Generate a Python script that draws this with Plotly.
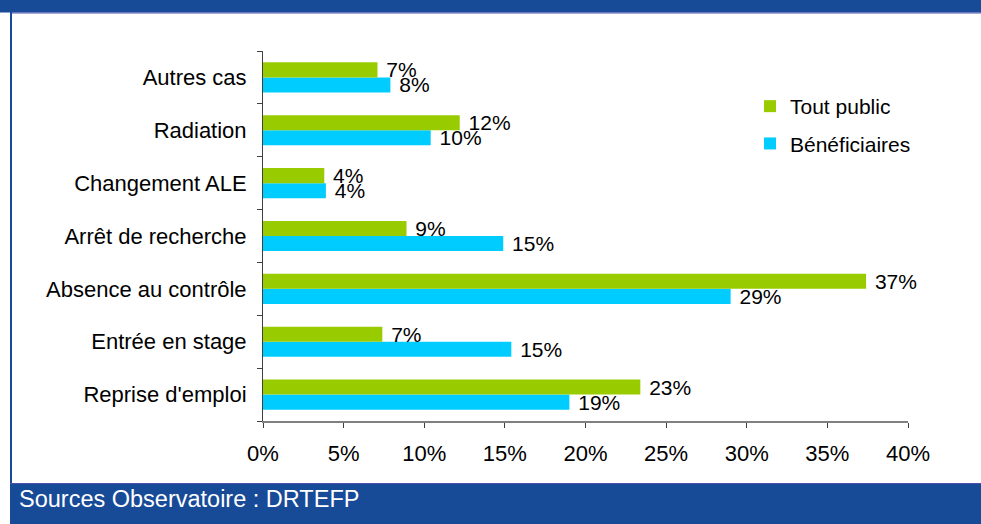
import plotly.graph_objects as go

categories = ["Reprise d'emploi", "Entrée en stage", "Absence au contrôle",
              "Arrêt de recherche", "Changement ALE", "Radiation", "Autres cas"]
tout_public = [23.4, 7.4, 37.4, 8.9, 3.8, 12.2, 7.1]
beneficiaires = [19.0, 15.4, 29.0, 14.9, 3.9, 10.4, 7.9]
x_ticks = [0, 5, 10, 15, 20, 25, 30, 35, 40]
x_tick_labels = [f"{v}%" for v in x_ticks]
source_text = "Sources Observatoire : DRTEFP"

GREEN = "#99CC00"
BLUE = "#00CCFF"
FRAME = "#174A97"
FONT = "Liberation Sans, Arial, sans-serif"

W, H = 981, 524
L, R, T, B = 263, 908, 51, 421

fig = go.Figure()
fig.add_trace(go.Bar(
    y=categories, x=beneficiaires, orientation="h", name="Bénéficiaires",
    marker=dict(color=BLUE, line=dict(width=0)),
    text=["\u00a0" + f"{round(v):.0f}%" for v in beneficiaires],
    textposition="outside", cliponaxis=False, constraintext="none",
    textfont=dict(family=FONT, size=21, color="black"),
    legendrank=2, legendgroup="b",
))
fig.add_trace(go.Bar(
    y=categories, x=tout_public, orientation="h", name="Tout public",
    marker=dict(color=GREEN, line=dict(width=0)),
    text=["\u00a0" + f"{round(v):.0f}%" for v in tout_public],
    textposition="outside", cliponaxis=False, constraintext="none",
    textfont=dict(family=FONT, size=21, color="black"),
    legendrank=1, legendgroup="a",
))

def px_x(p):
    return (p - L) / (R - L)

def px_y(p):
    return (B - p) / (B - T)

shapes = [
    dict(type="rect", xref="paper", yref="paper", x0=px_x(-5), x1=px_x(W + 5),
         y0=px_y(12.5), y1=px_y(-5), fillcolor=FRAME, line=dict(width=0), layer="above"),
    dict(type="line", xref="paper", yref="paper", x0=px_x(10), x1=px_x(W + 5),
         y0=px_y(13), y1=px_y(13), line=dict(color="#4B4FB0", width=1)),
    dict(type="rect", xref="paper", yref="paper", x0=px_x(10), x1=px_x(12),
         y0=px_y(484), y1=px_y(12), fillcolor=FRAME, line=dict(width=0)),
    dict(type="rect", xref="paper", yref="paper", x0=px_x(10), x1=px_x(W + 5),
         y0=px_y(H + 5), y1=px_y(483.5), fillcolor=FRAME, line=dict(width=0)),
    dict(type="line", xref="paper", yref="paper", x0=px_x(10), x1=px_x(W + 5),
         y0=px_y(483.5), y1=px_y(483.5), line=dict(color="#4B4FB0", width=1)),
]

fig.update_layout(
    width=W, height=H,
    margin=dict(l=L, r=W - R, t=T, b=H - B, pad=0),
    paper_bgcolor="white", plot_bgcolor="white",
    barmode="group", bargap=0.43, bargroupgap=0,
    font=dict(family=FONT, size=21, color="black"),
    showlegend=True,
    legend=dict(x=px_x(750), y=px_y(86), xanchor="left", yanchor="top",
                font=dict(family=FONT, size=21, color="black"),
                bgcolor="rgba(0,0,0,0)", itemwidth=30, tracegroupgap=7,
                traceorder="grouped"),
    shapes=shapes,
    annotations=[dict(text=source_text, xref="paper", yref="paper",
                      x=px_x(17), y=px_y(499), xanchor="left", yanchor="middle",
                      showarrow=False, font=dict(family=FONT, size=23.5, color="white"))],
)

fig.update_xaxes(
    range=[0, 40], tickvals=x_ticks, ticktext=x_tick_labels,
    showgrid=False, zeroline=False, showline=True, linecolor="#808080", linewidth=2,
    ticks="outside", ticklen=5, tickcolor="#404040", tickwidth=1,
    ticklabelstandoff=7, tickfont=dict(family=FONT, size=22, color="black"),
)
fig.update_yaxes(
    type="category", categoryorder="array", categoryarray=categories,
    showgrid=False, zeroline=False, showline=True, linecolor="#404040", linewidth=1,
    ticks="outside", ticklen=5, tickcolor="#404040", tickson="boundaries",
    ticklabelstandoff=11, tickfont=dict(family=FONT, size=22, color="black"),
)

fig.write_html("out.html", config={"displayModeBar": False},
               post_script="document.body.style.margin='0px';document.body.style.overflow='hidden';")
